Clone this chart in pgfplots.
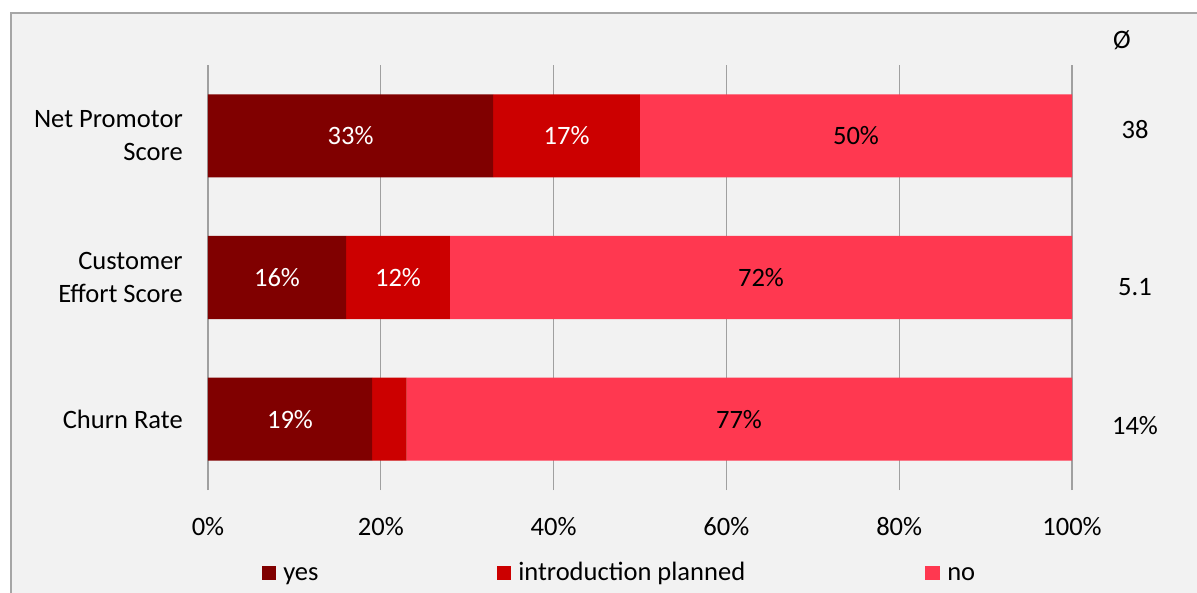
\documentclass[border=0pt]{standalone}
\usepackage{pgfplots}
\pgfplotsset{compat=1.18}
\usepackage{fontspec}
\setmainfont{Carlito}
\definecolor{cyes}{HTML}{800000}
\definecolor{cplan}{HTML}{CC0000}
\definecolor{cno}{HTML}{FF3850}
\definecolor{bg}{HTML}{F2F2F2}
\definecolor{framec}{HTML}{A6A6A6}
\definecolor{gridc}{HTML}{A0A0A0}
\newcommand{\fs}{\fontsize{19.9}{24.75}\selectfont}
\begin{document}
\begin{tikzpicture}
\begin{scope}[shift={(-156pt,367.5pt)}, x=0.75pt, y=-0.75pt]
  \useasboundingbox (0,0) rectangle (1197,593);
  \fill[white] (0,0) rectangle (1197,593);
  \fill[bg] (11,13) rectangle (1197,593);
  \draw[framec, line width=0.9pt] (11,593) -- (11,13) -- (1197,13);
\end{scope}
\begin{axis}[
  at={(0,0)}, anchor=south west,
  scale only axis, width=648pt, height=318.75pt,
  xbar stacked, bar width=62.25pt,
  xmin=0, xmax=100, ymin=-0.5, ymax=2.5,
  xtick={0,20,40,60,80,100},
  xticklabels={0\%,20\%,40\%,60\%,80\%,100\%},
  ytick={0,1,2},
  yticklabels={Churn Rate,{Customer\\Effort Score},{Net Promotor\\Score}},
  xmajorgrids, ymajorgrids=false,
  grid style={gridc, line width=0.9pt},
  axis line style={draw=none},
  major tick length=0pt,
  tick label style={font=\fs, inner sep=0pt, text=black},
  yticklabel style={align=right, xshift=-18.75pt},
  xticklabel style={yshift=-20pt},
  /pgf/number format/assume math mode=true,
]
\addplot[fill=cyes, draw=none] coordinates {(19,0) (16,1) (33,2)};
\addplot[fill=cplan, draw=none] coordinates {(4,0) (12,1) (17,2)};
\addplot[fill=cno, draw=none] coordinates {(77,0) (72,1) (50,2)};
\end{axis}
\begin{scope}[shift={(-156pt,367.5pt)}, x=0.75pt, y=-0.75pt]
  % segment labels
  \node[font=\fs, text=white] at (350.6,136) {33\%};
  \node[font=\fs, text=white] at (566.6,136) {17\%};
  \node[font=\fs, text=black] at (856,136) {50\%};
  \node[font=\fs, text=white] at (277,278) {16\%};
  \node[font=\fs, text=white] at (398,278) {12\%};
  \node[font=\fs, text=black] at (761,278) {72\%};
  \node[font=\fs, text=white] at (290,420) {19\%};
  \node[font=\fs, text=black] at (739,420) {77\%};
  % averages column
  \node[font=\fs] at (1122,40) {Ø};
  \node[font=\fs] at (1135,130) {38};
  \node[font=\fs] at (1135,287) {5.1};
  \node[font=\fs] at (1135,426) {14\%};
  % legend
  \fill[cyes] (262,566) rectangle (276,580);
  \node[font=\fs, anchor=base west, inner sep=0pt] at (283,580) {yes};
  \fill[cplan] (497,566) rectangle (511,580);
  \node[font=\fs, anchor=base west, inner sep=0pt] at (518,580) {introduction planned};
  \fill[cno] (925,566) rectangle (940,580);
  \node[font=\fs, anchor=base west, inner sep=0pt] at (947,580) {no};
\end{scope}
\end{tikzpicture}
\end{document}
